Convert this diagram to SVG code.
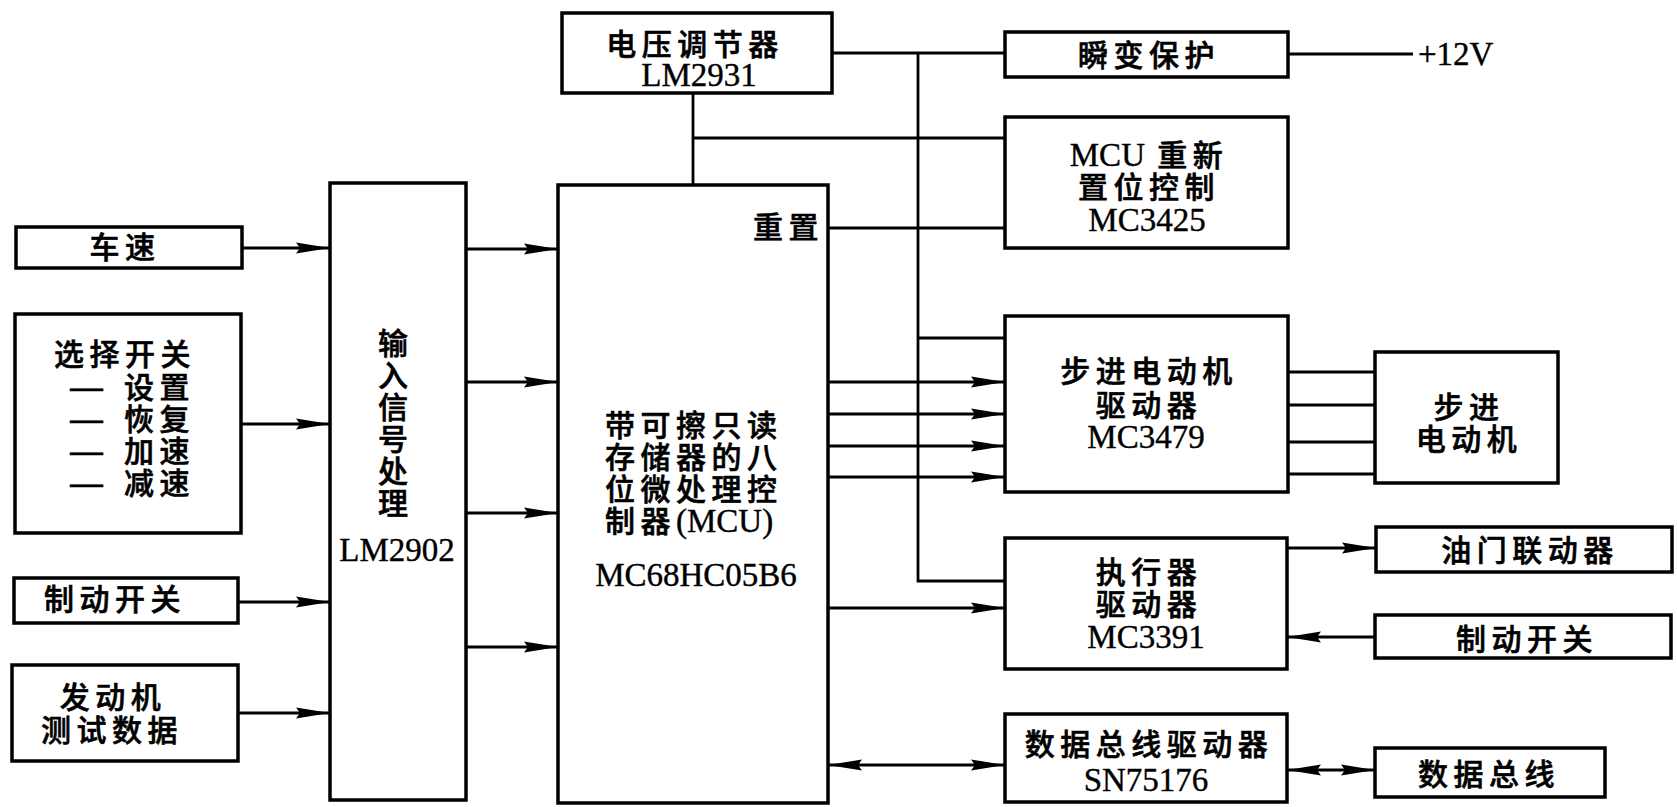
<svg xmlns="http://www.w3.org/2000/svg" width="1677" height="807" viewBox="0 0 1677 807">
<style>
.box{fill:#fff;stroke:#000;stroke-width:3.5}
.ln{fill:none;stroke:#000;stroke-width:2.8}
.cjk{font-family:"Noto Sans CJK SC","Noto Sans CJK TC",sans-serif;font-size:30px;font-weight:500;letter-spacing:5.5px;fill:#000;stroke:#000;stroke-width:0.6}
.lat{font-family:"Liberation Serif",serif;font-size:33px;font-weight:normal;letter-spacing:0;fill:#000;stroke:#000;stroke-width:0.4}
.dash{font-family:"Liberation Sans",sans-serif;font-size:33px;font-weight:normal;letter-spacing:0}
.v{letter-spacing:0}
</style>
<defs>
<marker id="ah" markerUnits="userSpaceOnUse" markerWidth="36" markerHeight="14" refX="34" refY="7" orient="auto">
<path d="M0,1.5 L34,7 L0,12.5 L4,7 z" fill="#000"/>
</marker>
<marker id="ahs" markerUnits="userSpaceOnUse" markerWidth="36" markerHeight="14" refX="0" refY="7" orient="auto">
<path d="M0,7 L34,1.5 L30,7 L34,12.5 z" fill="#000"/>
</marker>
</defs>
<rect width="1677" height="807" fill="#fff"/>

<g id="connectors">
<path class="ln" d="M832,53 H1005"/>
<path class="ln" d="M918,53 V581 H1005"/>
<path class="ln" d="M918,338 H1005"/>
<path class="ln" d="M693,93 V185"/>
<path class="ln" d="M693,138 H1005"/>
<path class="ln" d="M828,228 H1005"/>
<path class="ln" d="M1288,54 H1413"/>
<path class="ln" d="M242,248 H330" marker-end="url(#ah)"/>
<path class="ln" d="M241,424 H330" marker-end="url(#ah)"/>
<path class="ln" d="M238,602 H330" marker-end="url(#ah)"/>
<path class="ln" d="M238,713 H330" marker-end="url(#ah)"/>
<path class="ln" d="M466,249 H558" marker-end="url(#ah)"/>
<path class="ln" d="M466,382 H558" marker-end="url(#ah)"/>
<path class="ln" d="M466,513 H558" marker-end="url(#ah)"/>
<path class="ln" d="M466,647 H558" marker-end="url(#ah)"/>
<path class="ln" d="M828,382 H1005" marker-end="url(#ah)"/>
<path class="ln" d="M828,414 H1005" marker-end="url(#ah)"/>
<path class="ln" d="M828,446 H1005" marker-end="url(#ah)"/>
<path class="ln" d="M828,477 H1005" marker-end="url(#ah)"/>
<path class="ln" d="M1288,372 H1375"/>
<path class="ln" d="M1288,405 H1375"/>
<path class="ln" d="M1288,442 H1375"/>
<path class="ln" d="M1288,474 H1375"/>
<path class="ln" d="M828,608 H1005" marker-end="url(#ah)"/>
<path class="ln" d="M1287,548 H1376" marker-end="url(#ah)"/>
<path class="ln" d="M1375,637 H1287" marker-end="url(#ah)"/>
<path class="ln" d="M828,765 H1005" marker-start="url(#ahs)" marker-end="url(#ah)"/>
<path class="ln" d="M1287,770 H1375" marker-start="url(#ahs)" marker-end="url(#ah)"/>
</g>

<g id="reg">
<rect class="box" x="562" y="13" width="270" height="80"/>
<text class="cjk" x="695" y="55" text-anchor="middle">电压调节器</text>
<text class="lat" x="699" y="86" text-anchor="middle">LM2931</text>
</g>

<g id="tvs">
<rect class="box" x="1005" y="32" width="283" height="45"/>
<text class="cjk" x="1149" y="66" text-anchor="middle">瞬变保护</text>
</g>

<g id="v12">
<text class="lat" x="1418" y="65">+12V</text>
</g>

<g id="rst">
<rect class="box" x="1005" y="117" width="283" height="131"/>
<text class="cjk" x="1149" y="166" text-anchor="middle"><tspan class="lat">MCU</tspan> 重新</text>
<text class="cjk" x="1149" y="198" text-anchor="middle">置位控制</text>
<text class="lat" x="1147" y="231" text-anchor="middle">MC3425</text>
</g>

<g id="mcu">
<rect class="box" x="558" y="185" width="270" height="618"/>
<text class="cjk" x="753" y="238">重置</text>
<text class="cjk" x="605" y="436">带可擦只读</text>
<text class="cjk" x="605" y="468">存储器的八</text>
<text class="cjk" x="605" y="500">位微处理控</text>
<text class="cjk" x="605" y="532">制器<tspan class="lat">(MCU)</tspan></text>
<text class="lat" x="696" y="586" text-anchor="middle">MC68HC05B6</text>
</g>

<g id="inp">
<rect class="box" x="330" y="183" width="136" height="617"/>
<text class="cjk v" x="393" y="354" text-anchor="middle">输</text>
<text class="cjk v" x="393" y="386" text-anchor="middle">入</text>
<text class="cjk v" x="393" y="418" text-anchor="middle">信</text>
<text class="cjk v" x="393" y="450" text-anchor="middle">号</text>
<text class="cjk v" x="393" y="482" text-anchor="middle">处</text>
<text class="cjk v" x="393" y="514" text-anchor="middle">理</text>
<text class="lat" x="397" y="561" text-anchor="middle">LM2902</text>
</g>

<g id="spd">
<rect class="box" x="16" y="227" width="226" height="41"/>
<text class="cjk" x="125" y="258" text-anchor="middle">车速</text>
</g>

<g id="sel">
<rect class="box" x="15" y="314" width="226" height="219"/>
<text class="cjk" x="54" y="365">选择开关</text>
<text class="cjk" y="398"><tspan class="dash" x="70">—</tspan><tspan x="124">设置</tspan></text>
<text class="cjk" y="430"><tspan class="dash" x="70">—</tspan><tspan x="124">恢复</tspan></text>
<text class="cjk" y="462"><tspan class="dash" x="70">—</tspan><tspan x="124">加速</tspan></text>
<text class="cjk" y="494"><tspan class="dash" x="70">—</tspan><tspan x="124">减速</tspan></text>
</g>

<g id="brk">
<rect class="box" x="14" y="578" width="224" height="45"/>
<text class="cjk" x="115" y="610" text-anchor="middle">制动开关</text>
</g>

<g id="eng">
<rect class="box" x="12" y="665" width="226" height="96"/>
<text class="cjk" x="113" y="708" text-anchor="middle">发动机</text>
<text class="cjk" x="112" y="741" text-anchor="middle">测试数据</text>
</g>

<g id="smd">
<rect class="box" x="1005" y="316" width="283" height="176"/>
<text class="cjk" x="1149" y="382" text-anchor="middle">步进电动机</text>
<text class="cjk" x="1149" y="416" text-anchor="middle">驱动器</text>
<text class="lat" x="1146" y="448" text-anchor="middle">MC3479</text>
</g>

<g id="sm">
<rect class="box" x="1375" y="352" width="183" height="131"/>
<text class="cjk" x="1469" y="418" text-anchor="middle">步进</text>
<text class="cjk" x="1469" y="450" text-anchor="middle">电动机</text>
</g>

<g id="exe">
<rect class="box" x="1005" y="538" width="282" height="131"/>
<text class="cjk" x="1149" y="583" text-anchor="middle">执行器</text>
<text class="cjk" x="1149" y="615" text-anchor="middle">驱动器</text>
<text class="lat" x="1146" y="648" text-anchor="middle">MC3391</text>
</g>

<g id="thr">
<rect class="box" x="1376" y="527" width="296" height="45"/>
<text class="cjk" x="1530" y="561" text-anchor="middle">油门联动器</text>
</g>

<g id="brk2">
<rect class="box" x="1375" y="615" width="296" height="43"/>
<text class="cjk" x="1527" y="650" text-anchor="middle">制动开关</text>
</g>

<g id="dbd">
<rect class="box" x="1005" y="714" width="282" height="88"/>
<text class="cjk" x="1149" y="755" text-anchor="middle">数据总线驱动器</text>
<text class="lat" x="1146" y="791" text-anchor="middle">SN75176</text>
</g>

<g id="db">
<rect class="box" x="1375" y="748" width="230" height="49"/>
<text class="cjk" x="1489" y="785" text-anchor="middle">数据总线</text>
</g>
</svg>
